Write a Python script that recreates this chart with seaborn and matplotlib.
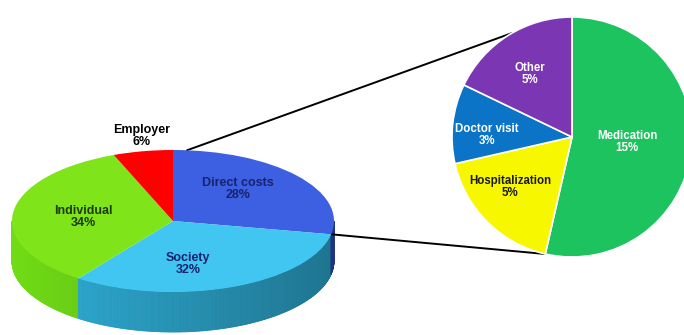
import numpy as np
import matplotlib
matplotlib.use("Agg")
import matplotlib.pyplot as plt
from matplotlib.collections import PolyCollection
from matplotlib.colors import to_rgb
import seaborn as sns

sns.set_theme(style="white")
plt.rcParams["font.family"] = ["Liberation Sans", "DejaVu Sans"]

# Cost breakdown (outer pie) and split of the direct costs (detail pie)
cost_labels = ["Direct costs", "Society", "Individual", "Employer"]
cost_shares = [28, 32, 34, 6]

direct_labels = ["Medication", "Hospitalization", "Doctor visit", "Other"]
direct_shares = [15, 5, 3, 5]

# Styling
top_colors = ["#3d5fe2", "#40c6f1", "#80e41a", "#ff0000"]
side_colors = ["#2c47b4", "#2aa2c8", "#68cc14", "#c00000"]
detail_colors = ["#1dc35e", "#f7f700", "#0b74c6", "#7b36b4"]
cost_text_colors = ["#16236e", "#16236e", "#1d3a08", "#000000"]
detail_text_colors = ["white", "#1a1a1a", "white", "white"]

W, H = 684, 335
fig = plt.figure(figsize=(W / 100, H / 100), dpi=100)
fig.patch.set_facecolor("white")

# Background axes in pixel coordinates: extruded side wall and connector lines
bg = fig.add_axes([0, 0, 1, 1])
bg.set_xlim(0, W)
bg.set_ylim(H, 0)
bg.axis("off")

# ---- 3D-looking outer pie ----
cx, cy, a, b, depth = 173, 221, 161, 71, 40

# Side wall: thin strips along the front arc, coloured by the slice they belong to
total = sum(cost_shares)
bounds = np.cumsum(cost_shares) / total * 360.0
t = np.linspace(180, 360, 361)
quads, fills = [], []
for t0, t1 in zip(t[:-1], t[1:]):
    tm = 0.5 * (t0 + t1)
    offset = (90 - tm) % 360
    idx = int(np.searchsorted(bounds, offset, side="right"))
    x0, x1 = cx + a * np.cos(np.radians(t0)), cx + a * np.cos(np.radians(t1))
    y0, y1 = cy - b * np.sin(np.radians(t0)), cy - b * np.sin(np.radians(t1))
    quads.append([(x0, y0), (x1, y1), (x1, y1 + depth), (x0, y0 + depth)])
    shade = 1.08 - 0.36 * (0.5 * (x0 + x1) - (cx - a)) / (2 * a)
    fills.append(np.clip(np.array(to_rgb(side_colors[idx])) * shade, 0, 1))
bg.add_collection(PolyCollection(quads, facecolors=fills, edgecolors=fills, linewidths=0.6))

# Top surface: elliptical pie
box_top = cy - b
box_bot = cy + b
ax1 = fig.add_axes([(cx - a) / W, (H - box_bot) / H, 2 * a / W, (box_bot - box_top) / H])
ax1.pie(cost_shares, colors=top_colors, startangle=90, counterclock=False,
        radius=1, wedgeprops=dict(linewidth=0))
ax1.set_aspect("auto")
ax1.set_xlim(-1, 1)
ax1.set_ylim(-1, 1)
ax1.axis("off")

# ---- Detail pie for direct costs ----
rcx, rcy, r = 572, 137, 120
ax2 = fig.add_axes([(rcx - r) / W, (H - (rcy + r)) / H, 2 * r / W, 2 * r / H])
ax2.pie(direct_shares, colors=detail_colors, startangle=90, counterclock=False,
        radius=1, wedgeprops=dict(linewidth=1.2, edgecolor="white"))
ax2.set_aspect("auto")
ax2.set_xlim(-1, 1)
ax2.set_ylim(-1, 1)
ax2.axis("off")

# ---- Connector lines from the direct-costs slice to the detail pie ----
start_deg = 90
end_deg = 90 - 360 * cost_shares[0] / total
p1 = (cx + a * np.cos(np.radians(start_deg - 5)), cy - b * np.sin(np.radians(start_deg - 5)))
p2 = (cx + a * np.cos(np.radians(end_deg)), cy - b * np.sin(np.radians(end_deg)))
med_end = 90 - 360 * direct_shares[0] / sum(direct_shares)
q1 = (rcx + r * np.cos(np.radians(120)), rcy - r * np.sin(np.radians(120)))
q2 = (rcx + r * np.cos(np.radians(med_end)), rcy - r * np.sin(np.radians(med_end)))
bg.plot([p1[0], q1[0]], [p1[1], q1[1]], color="black", lw=1.4, zorder=3)
bg.plot([p2[0], q2[0]], [p2[1], q2[1]], color="black", lw=1.4, zorder=3)

# ---- Labels ----
cost_pos = [(238, 189), (188, 264), (83, 217), (142, 136)]
for name, val, (x, y), c in zip(cost_labels, cost_shares, cost_pos, cost_text_colors):
    fig.text(x / W, 1 - y / H, f"{name}\n{val}%", ha="center", va="center",
             fontsize=9, fontweight="bold", color=c, linespacing=1.05)

detail_pos = [(627, 142), (510, 187), (487, 135), (530, 74)]
for name, val, (x, y), c in zip(direct_labels, direct_shares, detail_pos, detail_text_colors):
    fig.text(x / W, 1 - y / H, f"{name}\n{val}%", ha="center", va="center",
             fontsize=8.3, fontweight="bold", color=c, linespacing=1.05)

fig.savefig("out.png", dpi=100, facecolor="white")
